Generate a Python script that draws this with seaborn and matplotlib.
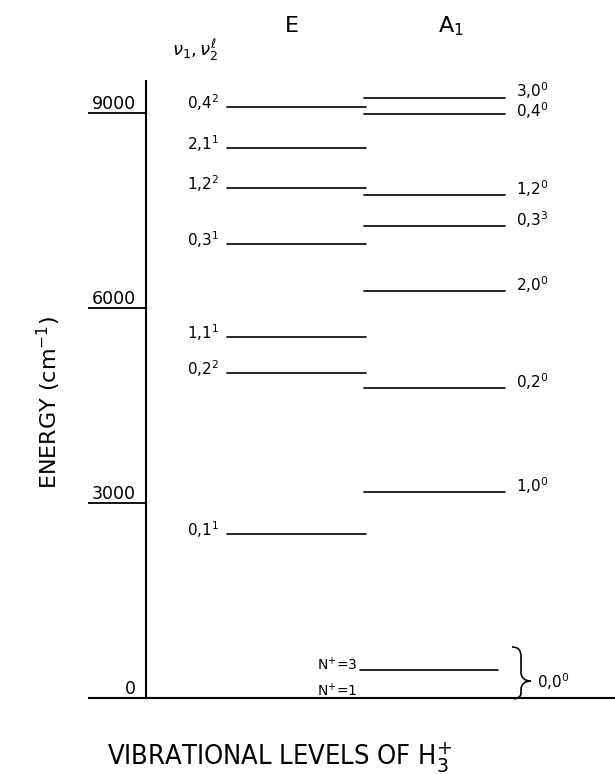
import pandas as pd
import matplotlib
matplotlib.use("Agg")
import matplotlib.pyplot as plt
from matplotlib.path import Path
from matplotlib.patches import PathPatch
import seaborn as sns

# H3+ vibrational levels (cm^-1)
e_labels = ["0,1", "0,2", "1,1", "0,3", "1,2", "2,1", "0,4"]
e_ell = [1, 2, 1, 1, 2, 1, 2]
e_energy = [2523, 4995, 5551, 6985, 7842, 8457, 9088]

a1_labels = ["1,0", "0,2", "2,0", "0,3", "1,2", "0,4", "3,0"]
a1_ell = [0, 0, 0, 3, 0, 0, 0]
a1_energy = [3174, 4774, 6262, 7266, 7738, 8980, 9226]

rot_labels = ["N$^{+}$=1", "N$^{+}$=3"]
rot_energy = [0, 431]

yticks = [0, 3000, 6000, 9000]

# layout: x in pixels, y in cm^-1 (195 px per 3000 cm^-1, zero at 698 px)
PX = 195 / 3000
Y0 = 698
def ypx(p):
    return (Y0 - p) / PX

sns.set_theme(style="white")
plt.rcParams["font.family"] = ["DejaVu Sans"]
plt.rcParams["mathtext.fontset"] = "dejavusans"
plt.rcParams["text.color"] = "black"

fig = plt.figure(figsize=(6.15, 7.74), dpi=100)
ax = fig.add_axes([0, 0, 1, 1])
ax.set_xlim(0, 615)
ax.set_ylim(ypx(774), ypx(0))
ax.axis("off")

# level segments as long-form data
rows = []
for lab, en in zip(e_labels, e_energy):
    rows += [dict(level="E " + lab, x=227, energy=en), dict(level="E " + lab, x=366, energy=en)]
for lab, en in zip(a1_labels, a1_energy):
    rows += [dict(level="A " + lab, x=364, energy=en), dict(level="A " + lab, x=505, energy=en)]
rows += [dict(level="rot", x=360, energy=rot_energy[1]), dict(level="rot", x=498, energy=rot_energy[1])]
levels = pd.DataFrame(rows)

sns.lineplot(data=levels, x="x", y="energy", units="level", estimator=None,
             sort=False, color="black", lw=1.2, ax=ax, legend=False)

# energy axis
ax.vlines(146, 0, ypx(80), color="black", lw=1.5)
ax.hlines(0, 88, 615, color="black", lw=1.5)
for t in yticks:
    ax.hlines(t, 88, 146, color="black", lw=1.3)
    ax.text(136, t + 4 / PX, str(t), ha="right", va="baseline", fontsize=12.5)

# level labels
for lab, l, en in zip(e_labels, e_ell, e_energy):
    ax.text(219, en - 2 / PX, f"{lab}$^{{{l}}}$", ha="right", va="baseline", fontsize=11)
a1_shift = {"3,0": 1, "0,4": -3}
for lab, l, en in zip(a1_labels, a1_ell, a1_energy):
    ax.text(516, en + a1_shift.get(lab, 0) / PX, f"{lab}$^{{{l}}}$",
            ha="left", va="baseline", fontsize=11)

ax.text(317, rot_energy[1], rot_labels[1], ha="left", va="baseline", fontsize=10)
ax.text(317, rot_energy[0] + 2 / PX, rot_labels[0], ha="left", va="baseline", fontsize=10)

# brace grouping the two rotational levels
brace = [(512, 647), (519, 647), (521, 651), (521, 657), (521, 672),
         (521, 678), (525, 681), (531, 681), (525, 681), (521, 684), (521, 690),
         (521, 693), (521, 697), (518, 698), (514, 699)]
codes = [Path.MOVETO, Path.CURVE4, Path.CURVE4, Path.CURVE4, Path.LINETO,
         Path.CURVE4, Path.CURVE4, Path.CURVE4, Path.CURVE4, Path.CURVE4, Path.CURVE4,
         Path.LINETO, Path.CURVE4, Path.CURVE4, Path.CURVE4]
ax.add_patch(PathPatch(Path([(x, ypx(y)) for x, y in brace], codes),
                       fill=False, edgecolor="black", lw=1.2))
ax.text(537, ypx(688), "0,0$^{0}$", ha="left", va="baseline", fontsize=11)

# headers
ax.text(219, ypx(56), r"$\nu_{1},\nu_{2}^{\ell}$", ha="right", va="baseline", fontsize=13)
ax.text(292, ypx(32), "E", ha="center", va="baseline", fontsize=16)
ax.text(438, ypx(32), "A$_{1}$", ha="left", va="baseline", fontsize=16)

ax.text(49, ypx(402), "ENERGY (cm$^{-1}$)", rotation=90, ha="center", va="center", fontsize=16)
ax.text(280, ypx(765), "VIBRATIONAL LEVELS OF H$_{3}^{+}$", ha="center", va="baseline",
        fontsize=19.5, fontstretch="condensed")

fig.savefig("out.png", dpi=100)
